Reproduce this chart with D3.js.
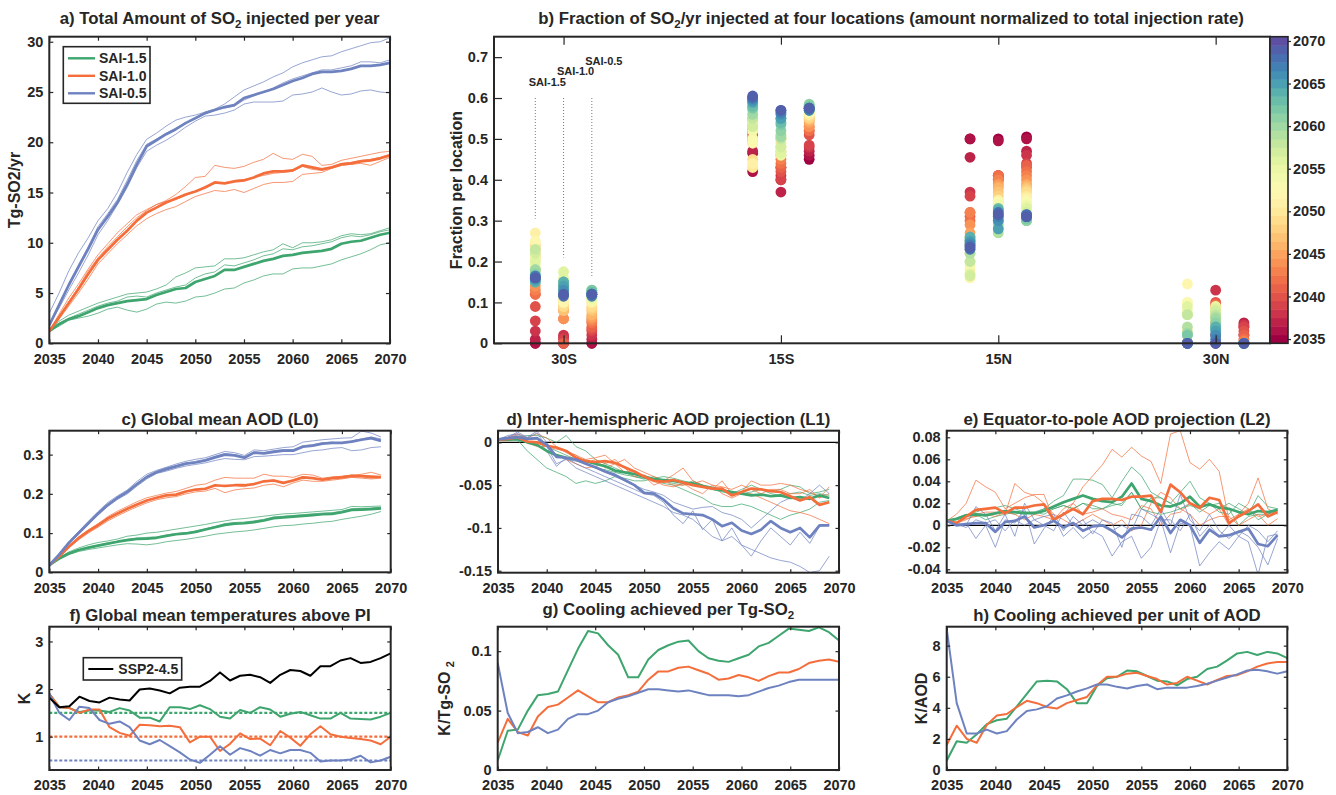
<!DOCTYPE html>
<html>
<head>
<meta charset="utf-8">
<script src="https://cdn.jsdelivr.net/npm/d3@7"></script>
<style>
  body { margin: 0; background: #fff; }
  svg text { font-family: "Liberation Sans", Arial, Helvetica, sans-serif; font-weight: bold; fill: #262626; }
  .tick text { font-size: 14.5px; }
</style>
</head>
<body>
<svg id="mainsvg" width="1336" height="795"></svg>
<script>
// ---------- data ----------
const scenarios = ['SAI-1.5', 'SAI-1.0', 'SAI-0.5'];
const locations = ['30S', '15S', '15N', '30N'];
const yearTicks = [2035, 2040, 2045, 2050, 2055, 2060, 2065, 2070];

// a) total SO2 injection (Tg/yr), 2035-2070
const inj15Mean = [1.2,1.9,2.4,2.7,3.1,3.5,3.8,4.0,4.2,4.3,4.4,4.8,5.1,5.4,5.5,6.1,6.4,6.7,7.3,7.3,7.6,7.9,8.2,8.4,8.7,8.8,9.0,9.1,9.2,9.4,9.9,10.1,10.2,10.5,10.8,11.0];
const inj15Runs = [
  [1.2,2.2,2.8,3.2,3.6,4.0,4.3,4.6,4.9,5.0,5.1,5.4,5.8,6.6,7.0,7.5,7.6,7.7,8.4,8.4,8.5,8.8,9.1,9.3,9.9,9.5,10.0,10.0,10.1,10.3,10.7,10.9,10.8,10.9,11.2,11.5],
  [1.2,1.7,2.3,2.5,2.7,3.0,3.4,3.6,3.3,3.1,3.4,3.9,4.1,4.0,4.2,4.6,4.7,5.0,5.4,5.5,6.0,6.3,6.7,6.9,6.9,7.4,7.5,7.5,7.7,7.9,8.3,8.6,8.9,9.3,9.8,10.0],
  [1.2,2.0,2.5,2.9,3.3,3.7,4.0,4.2,4.6,4.7,4.6,5.0,5.3,5.6,5.8,6.5,6.9,7.1,7.8,7.7,8.0,8.3,8.7,8.9,9.4,9.3,9.6,9.7,9.9,10.1,10.5,10.7,10.6,10.8,11.1,11.3]
];
const inj10Mean = [1.2,2.6,4.0,5.4,6.9,8.3,9.3,10.3,11.2,12.2,13.0,13.5,14.0,14.4,14.8,15.1,15.5,16.0,15.9,16.1,16.2,16.5,16.9,17.1,17.1,17.2,17.7,17.5,17.3,17.5,17.8,17.9,18.1,18.2,18.4,18.7];
const inj10Runs = [
  [1.2,2.9,4.5,5.9,7.4,8.8,9.9,11.0,11.9,12.8,13.3,13.8,14.2,14.8,15.6,16.5,16.6,17.7,17.5,17.4,17.6,18.0,18.3,18.9,18.4,18.3,18.8,18.6,17.7,17.8,18.2,18.4,18.6,18.8,19.0,19.1],
  [1.2,2.4,3.7,5.0,6.4,7.9,8.9,9.9,10.8,11.7,12.4,12.9,13.3,13.6,14.1,14.6,14.9,15.2,15.1,15.3,15.0,15.4,15.8,16.0,16.0,16.1,16.8,16.9,17.0,17.4,17.7,17.8,17.9,17.7,18.1,18.5],
  [1.2,2.7,4.1,5.6,7.2,8.5,9.6,10.6,11.6,12.5,13.2,13.8,14.1,14.3,14.7,15.1,15.6,15.9,16.0,16.2,16.3,16.5,16.7,16.9,17.0,17.1,17.6,17.3,17.2,17.5,17.9,18.0,18.2,18.3,18.5,18.8]
];
const inj05Mean = [1.8,3.8,5.8,7.6,9.4,11.3,12.6,14.0,15.8,17.8,19.6,20.2,20.8,21.3,21.9,22.4,22.9,23.2,23.5,23.7,24.4,24.7,25.0,25.3,25.7,26.1,26.4,26.8,27.0,27.0,27.1,27.3,27.6,27.6,27.7,27.9];
const inj05Runs = [
  [3.0,5.0,7.2,9.0,10.5,12.2,13.4,15.0,17.0,18.8,20.3,20.9,21.6,22.2,22.5,22.7,23.0,23.3,23.8,24.5,25.2,25.6,26.0,26.5,26.9,27.5,27.9,28.2,28.5,28.6,29.0,29.3,29.6,29.9,30.0,30.4],
  [1.8,3.5,5.3,7.0,8.8,10.8,12.2,13.8,15.5,17.5,19.1,19.7,20.2,20.8,21.5,22.1,22.6,22.7,22.9,23.2,23.8,24.0,24.0,24.0,24.1,24.7,24.8,25.0,25.4,25.0,24.7,24.8,25.1,25.2,25.0,24.9],
  [1.8,3.9,5.9,7.8,9.6,11.6,12.9,14.3,16.2,18.2,19.8,20.3,20.9,21.4,21.9,22.3,22.8,23.2,23.4,23.6,24.2,24.6,25.0,25.4,25.9,26.3,26.6,26.9,27.2,27.2,27.4,27.6,28.0,28.0,27.9,28.2]
];

// b) fraction of injection per location, 2035-2069
const frac15_30S = [0,0,0.01,0.03,0.055,0.09,0.12,0.12,0.13,0.14,0.18,0.21,0.23,0.24,0.22,0.24,0.27,0.25,0.2,0.21,0.19,0.2,0.22,0.23,0.18,0.18,0.17,0.15,0.16,0.15,0.155,0.16,0.165,0.16,0.16];
const frac15_15S = [0.465,0.42,0.47,0.5,0.52,0.51,0.52,0.5,0.53,0.55,0.54,0.52,0.5,0.49,0.45,0.43,0.44,0.49,0.5,0.52,0.54,0.53,0.53,0.55,0.57,0.56,0.58,0.575,0.58,0.59,0.59,0.595,0.6,0.6,0.605];
const frac15_15N = [0.5,0.5,0.455,0.37,0.36,0.32,0.31,0.3,0.32,0.29,0.27,0.26,0.25,0.24,0.22,0.2,0.18,0.16,0.17,0.19,0.2,0.17,0.165,0.2,0.22,0.23,0.24,0.25,0.255,0.26,0.25,0.245,0.24,0.23,0.235];
const frac15_30N = [0,0,0,0,0,0,0,0,0,0,0,0,0,0,0,0.03,0.1,0.145,0.1,0.08,0.07,0.09,0.07,0.07,0.04,0.025,0.02,0.02,0,0,0,0,0,0,0];
const frac10_30S = [0,0,0.015,0.02,0.01,0,0,0.06,0.08,0.06,0.09,0.1,0.08,0.1,0.09,0.1,0.11,0.1,0.12,0.14,0.16,0.175,0.15,0.14,0.13,0.14,0.13,0.15,0.14,0.15,0.14,0.13,0.12,0.115,0.12];
const frac10_15S = [0.43,0.4,0.37,0.41,0.4,0.42,0.43,0.44,0.45,0.46,0.47,0.48,0.5,0.5,0.49,0.5,0.51,0.5,0.48,0.47,0.46,0.465,0.48,0.5,0.51,0.505,0.52,0.535,0.54,0.55,0.55,0.56,0.565,0.57,0.57];
const frac10_15N = [0.5,0.495,0.41,0.4,0.41,0.41,0.4,0.41,0.4,0.39,0.385,0.38,0.37,0.36,0.35,0.345,0.35,0.34,0.345,0.34,0.33,0.32,0.3,0.28,0.27,0.29,0.3,0.31,0.33,0.325,0.28,0.3,0.31,0.32,0.315];
const frac10_30N = [0,0.02,0.05,0.13,0.09,0.1,0.09,0.095,0.08,0.09,0.07,0.06,0.08,0.06,0.06,0.06,0.05,0.06,0.07,0.08,0.09,0.085,0.08,0.07,0.065,0.06,0.05,0.04,0.035,0.04,0.03,0.02,0.01,0,0];
const frac05_30S = [0,0,0.01,0.02,0.03,0.035,0.04,0.05,0.055,0.06,0.065,0.07,0.08,0.085,0.09,0.1,0.1,0.105,0.11,0.105,0.11,0.115,0.12,0.12,0.125,0.13,0.125,0.13,0.125,0.12,0.12,0.12,0.115,0.12,0.12];
const frac05_15S = [0.45,0.46,0.47,0.48,0.485,0.51,0.52,0.52,0.53,0.53,0.54,0.545,0.55,0.55,0.555,0.56,0.56,0.565,0.565,0.57,0.57,0.575,0.575,0.58,0.58,0.58,0.585,0.58,0.575,0.575,0.57,0.575,0.57,0.575,0.575];
const frac05_15N = [0.505,0.5,0.47,0.46,0.44,0.43,0.435,0.42,0.41,0.4,0.39,0.385,0.38,0.375,0.37,0.36,0.355,0.35,0.345,0.34,0.335,0.33,0.32,0.31,0.305,0.3,0.3,0.305,0.31,0.31,0.31,0.315,0.31,0.315,0.31];
const frac05_30N = [0.02,0.04,0.05,0.045,0.04,0.03,0.02,0.01,0.005,0,0,0,0,0,0,0,0,0,0,0,0,0,0,0,0,0,0,0,0,0,0,0,0,0,0];

// c) global mean AOD, 2035-2069
const aod15Mean = [0.018,0.035,0.048,0.057,0.063,0.068,0.073,0.078,0.082,0.085,0.086,0.088,0.093,0.097,0.099,0.103,0.109,0.115,0.121,0.124,0.125,0.128,0.132,0.138,0.14,0.142,0.144,0.146,0.148,0.149,0.153,0.159,0.16,0.161,0.163];
const aod15Runs = [
  [0.018,0.037,0.052,0.062,0.07,0.076,0.08,0.085,0.092,0.095,0.1,0.102,0.106,0.11,0.114,0.118,0.122,0.127,0.131,0.135,0.137,0.14,0.143,0.146,0.149,0.15,0.152,0.154,0.156,0.158,0.16,0.168,0.167,0.168,0.169],
  [0.018,0.033,0.045,0.053,0.058,0.062,0.066,0.07,0.073,0.072,0.07,0.073,0.078,0.081,0.084,0.088,0.092,0.097,0.1,0.103,0.105,0.108,0.112,0.116,0.119,0.12,0.123,0.125,0.128,0.13,0.135,0.139,0.143,0.148,0.155],
  [0.018,0.035,0.048,0.057,0.064,0.069,0.074,0.079,0.084,0.087,0.089,0.09,0.095,0.099,0.101,0.105,0.111,0.117,0.124,0.127,0.128,0.131,0.135,0.141,0.143,0.145,0.147,0.149,0.151,0.152,0.156,0.162,0.163,0.164,0.166]
];
const aod10Mean = [0.018,0.04,0.065,0.087,0.105,0.12,0.137,0.15,0.162,0.173,0.183,0.19,0.196,0.198,0.206,0.211,0.213,0.222,0.22,0.222,0.222,0.225,0.232,0.234,0.228,0.234,0.242,0.24,0.236,0.24,0.242,0.246,0.245,0.244,0.243];
const aod10Runs = [
  [0.018,0.042,0.068,0.09,0.108,0.124,0.142,0.156,0.168,0.18,0.19,0.196,0.202,0.206,0.214,0.222,0.225,0.235,0.242,0.24,0.24,0.24,0.25,0.245,0.245,0.242,0.25,0.248,0.24,0.243,0.245,0.247,0.25,0.255,0.248],
  [0.018,0.038,0.062,0.083,0.1,0.115,0.131,0.144,0.156,0.167,0.177,0.185,0.19,0.193,0.2,0.205,0.207,0.214,0.203,0.21,0.213,0.215,0.222,0.225,0.218,0.228,0.235,0.232,0.232,0.235,0.238,0.242,0.24,0.238,0.24],
  [0.018,0.04,0.065,0.088,0.106,0.121,0.138,0.151,0.163,0.174,0.184,0.191,0.197,0.197,0.205,0.209,0.212,0.22,0.222,0.222,0.218,0.226,0.232,0.236,0.226,0.236,0.244,0.24,0.238,0.242,0.244,0.248,0.244,0.24,0.242]
];
const aod05Mean = [0.018,0.045,0.075,0.1,0.125,0.15,0.172,0.19,0.205,0.225,0.243,0.255,0.263,0.27,0.277,0.28,0.285,0.293,0.3,0.298,0.292,0.305,0.303,0.307,0.31,0.31,0.32,0.323,0.328,0.33,0.33,0.333,0.338,0.342,0.335];
const aod05Runs = [
  [0.018,0.047,0.078,0.104,0.13,0.155,0.178,0.195,0.21,0.232,0.25,0.26,0.268,0.276,0.283,0.288,0.292,0.3,0.308,0.305,0.298,0.312,0.31,0.314,0.318,0.32,0.332,0.335,0.338,0.34,0.342,0.343,0.36,0.355,0.345],
  [0.018,0.044,0.072,0.097,0.122,0.146,0.168,0.186,0.2,0.22,0.238,0.252,0.258,0.265,0.271,0.275,0.279,0.285,0.29,0.288,0.287,0.295,0.296,0.298,0.3,0.3,0.305,0.31,0.312,0.316,0.318,0.31,0.312,0.318,0.32],
  [0.018,0.045,0.075,0.1,0.125,0.15,0.172,0.19,0.207,0.226,0.245,0.257,0.266,0.272,0.278,0.283,0.288,0.296,0.303,0.3,0.295,0.307,0.305,0.31,0.313,0.313,0.323,0.325,0.33,0.332,0.328,0.335,0.34,0.345,0.34]
];

// d) inter-hemispheric AOD (L1), 2035-2069
const l1_15Mean = [0.003,0.003,0.004,0.0,-0.003,-0.01,-0.015,-0.018,-0.02,-0.022,-0.025,-0.028,-0.033,-0.035,-0.037,-0.04,-0.043,-0.044,-0.045,-0.047,-0.048,-0.051,-0.054,-0.056,-0.058,-0.06,-0.062,-0.061,-0.063,-0.062,-0.065,-0.064,-0.066,-0.062,-0.065];
const l1_15Runs = [
  [0.003,0.005,0.003,-0.01,-0.02,-0.03,-0.035,-0.04,-0.048,-0.045,-0.048,-0.045,-0.04,-0.042,-0.045,-0.045,-0.042,-0.04,-0.042,-0.045,-0.048,-0.05,-0.052,-0.055,-0.058,-0.06,-0.058,-0.055,-0.06,-0.062,-0.06,-0.058,-0.062,-0.06,-0.062],
  [0.003,0.004,0.006,0.008,0.008,0.005,0.0,0.008,-0.005,-0.01,-0.02,-0.025,-0.03,-0.035,-0.04,-0.042,-0.045,-0.048,-0.05,-0.055,-0.06,-0.065,-0.072,-0.075,-0.075,-0.072,-0.075,-0.08,-0.085,-0.09,-0.085,-0.082,-0.078,-0.07,-0.068],
  [0.003,0.003,0.002,0.001,0.0,-0.005,-0.01,-0.015,-0.02,-0.025,-0.03,-0.032,-0.035,-0.038,-0.04,-0.043,-0.04,-0.045,-0.048,-0.05,-0.045,-0.05,-0.055,-0.058,-0.06,-0.055,-0.05,-0.055,-0.058,-0.055,-0.05,-0.052,-0.06,-0.058,-0.055]
];
const l1_10Mean = [0.003,0.004,0.006,0.001,0.0,-0.004,-0.006,-0.01,-0.018,-0.022,-0.023,-0.022,-0.024,-0.029,-0.034,-0.04,-0.045,-0.046,-0.044,-0.047,-0.05,-0.052,-0.054,-0.054,-0.062,-0.058,-0.054,-0.055,-0.057,-0.058,-0.063,-0.068,-0.064,-0.073,-0.07];
const l1_10Runs = [
  [0.003,0.006,0.01,0.005,0.01,0.005,-0.005,-0.012,-0.015,-0.025,-0.02,-0.03,-0.025,-0.035,-0.033,-0.04,-0.05,-0.045,-0.038,-0.03,-0.045,-0.05,-0.055,-0.045,-0.06,-0.058,-0.045,-0.05,-0.05,-0.048,-0.05,-0.055,-0.058,-0.065,-0.052],
  [0.003,0.005,0.008,0.0,-0.002,-0.01,-0.015,-0.02,-0.025,-0.03,-0.028,-0.025,-0.02,-0.03,-0.04,-0.038,-0.045,-0.05,-0.052,-0.048,-0.055,-0.06,-0.05,-0.06,-0.065,-0.06,-0.06,-0.065,-0.07,-0.075,-0.08,-0.082,-0.085,-0.09,-0.095],
  [0.002,0.002,0.004,0.0,-0.005,-0.005,-0.008,-0.01,-0.015,-0.02,-0.018,-0.015,-0.025,-0.02,-0.03,-0.035,-0.04,-0.045,-0.05,-0.05,-0.048,-0.045,-0.05,-0.052,-0.055,-0.05,-0.055,-0.06,-0.055,-0.055,-0.06,-0.06,-0.055,-0.065,-0.06]
];
const l1_05Mean = [0.0035,0.005,0.006,0.004,0.005,-0.003,-0.017,-0.018,-0.02,-0.025,-0.029,-0.034,-0.038,-0.044,-0.05,-0.059,-0.06,-0.067,-0.077,-0.083,-0.084,-0.085,-0.09,-0.098,-0.094,-0.103,-0.107,-0.102,-0.092,-0.1,-0.105,-0.1,-0.111,-0.097,-0.097];
const l1_05Runs = [
  [0.003,0.008,0.01,0.005,0.011,-0.005,-0.025,-0.02,-0.03,-0.035,-0.04,-0.045,-0.05,-0.055,-0.06,-0.065,-0.07,-0.075,-0.082,-0.085,-0.09,-0.1,-0.11,-0.115,-0.11,-0.12,-0.125,-0.13,-0.135,-0.138,-0.14,-0.145,-0.152,-0.15,-0.133],
  [0.002,0.005,0.009,0.003,0.004,-0.01,-0.028,-0.018,-0.025,-0.03,-0.035,-0.04,-0.045,-0.05,-0.055,-0.06,-0.062,-0.07,-0.085,-0.095,-0.08,-0.102,-0.09,-0.115,-0.1,-0.12,-0.133,-0.115,-0.1,-0.11,-0.12,-0.105,-0.118,-0.098,-0.097],
  [0.004,0.006,0.012,0.006,0.013,0.0,-0.015,-0.02,-0.022,-0.025,-0.03,-0.035,-0.04,-0.045,-0.05,-0.055,-0.058,-0.062,-0.07,-0.074,-0.078,-0.076,-0.075,-0.082,-0.085,-0.09,-0.1,-0.09,-0.08,-0.07,-0.065,-0.068,-0.06,-0.05,-0.06]
];

// e) equator-to-pole AOD (L2), 2035-2069
const l2_15Mean = [0.004,0.006,0.009,0.01,0.009,0.011,0.013,0.012,0.011,0.011,0.013,0.017,0.021,0.024,0.027,0.024,0.022,0.021,0.026,0.038,0.024,0.022,0.018,0.017,0.02,0.026,0.017,0.019,0.016,0.015,0.012,0.01,0.013,0.012,0.014];
const l2_15Runs = [
  [0.004,0.005,0.008,0.012,0.015,0.016,0.018,0.015,0.012,0.01,0.015,0.022,0.027,0.042,0.042,0.041,0.037,0.025,0.04,0.053,0.045,0.03,0.025,0.02,0.03,0.04,0.025,0.02,0.015,0.02,0.015,0.01,0.027,0.017,0.015],
  [0.004,0.006,0.01,0.008,0.01,0.01,0.012,0.01,0.012,0.012,0.01,0.015,0.018,0.015,0.02,0.018,0.015,0.02,0.018,0.03,0.015,0.025,0.025,0.02,0.015,0.02,0.012,0.018,0.02,0.015,0.0,0.008,0.01,0.01,0.013],
  [0.004,0.005,0.008,0.01,0.005,0.008,0.01,0.012,0.01,0.012,0.015,0.015,0.018,0.015,0.02,0.015,0.015,0.018,0.02,0.03,0.015,0.012,0.01,0.012,0.015,0.018,0.015,0.02,0.012,0.01,0.02,0.015,0.005,0.01,0.015]
];
const l2_10Mean = [0.004,0.002,0.008,0.014,0.015,0.016,0.011,0.016,0.016,0.018,0.019,0.005,0.01,0.015,0.01,0.022,0.024,0.024,0.023,0.026,0.026,0.027,0.012,0.037,0.03,0.02,0.016,0.025,0.023,0.002,0.008,0.013,0.019,0.008,0.012];
const l2_10Runs = [
  [0.004,0.01,0.02,0.041,0.035,0.03,0.015,0.02,0.025,0.028,0.028,0.005,0.01,0.02,0.035,0.045,0.055,0.069,0.062,0.071,0.063,0.058,0.038,0.083,0.086,0.057,0.051,0.06,0.049,0.005,0.01,0.02,0.043,0.015,0.01],
  [0.004,0.002,0.005,0.01,0.012,0.012,0.01,0.038,0.03,0.027,0.02,0.01,0.005,0.0,0.005,0.01,0.005,0.0,0.005,-0.005,0.0,0.02,0.03,0.025,0.015,0.01,0.0,0.005,0.008,0.008,0.0,0.005,0.01,0.0,0.006],
  [0.004,0.003,0.006,0.008,0.01,0.008,0.012,0.01,0.005,0.01,0.008,0.005,0.015,0.02,0.01,0.012,0.015,0.01,0.008,0.005,0.018,0.015,0.0,0.01,0.012,0.02,0.015,0.01,0.015,0.0,0.01,0.015,0.008,0.01,0.014]
];
const l2_05Mean = [0.004,0.0,0.001,0.002,0.002,-0.006,0.003,0.004,0.008,-0.002,0.0,0.004,-0.002,0.002,-0.005,-0.001,0.0,-0.005,-0.011,-0.003,-0.002,-0.004,0.008,-0.007,0.005,0.0,-0.016,-0.004,-0.01,-0.009,-0.006,-0.003,-0.017,-0.019,-0.009];
const l2_05Runs = [
  [0.004,0.0,0.002,-0.012,0.0,-0.02,0.005,0.002,0.015,-0.017,-0.003,0.008,-0.01,-0.002,-0.012,-0.005,-0.01,-0.028,-0.015,-0.01,-0.03,-0.02,0.005,-0.025,0.002,0.0,-0.037,-0.025,-0.015,-0.022,-0.01,-0.015,-0.045,-0.01,-0.008],
  [0.004,0.002,0.0,0.017,0.01,-0.005,0.01,-0.01,0.02,0.005,0.0,-0.005,0.012,0.0,0.005,-0.008,0.005,0.002,-0.02,0.01,0.008,0.0,0.015,0.0,0.028,0.005,-0.005,0.01,-0.005,-0.012,-0.005,-0.01,-0.02,-0.036,-0.012],
  [0.004,0.001,-0.002,0.005,0.002,0.005,-0.005,0.005,0.0,0.005,0.008,0.01,-0.005,0.008,0.0,0.005,0.0,-0.005,0.0,-0.005,0.015,0.01,0.005,0.005,-0.005,0.01,-0.01,0.0,-0.01,0.0,-0.01,0.0,-0.005,-0.015,-0.005]
];

// f) global mean temperature above PI (K), 35 values spread over 2035-2070
const tempSSP245 = [1.82,1.62,1.64,1.84,1.75,1.72,1.82,1.78,1.76,1.99,2.01,1.97,1.91,2.03,2.05,2.05,2.17,2.35,2.18,2.28,2.3,2.25,2.13,2.3,2.4,2.38,2.28,2.48,2.48,2.6,2.65,2.55,2.57,2.65,2.75];
const temp15 = [1.9,1.62,1.6,1.52,1.55,1.55,1.52,1.6,1.55,1.4,1.4,1.32,1.62,1.62,1.58,1.66,1.58,1.42,1.38,1.56,1.5,1.62,1.57,1.42,1.48,1.52,1.45,1.38,1.38,1.5,1.38,1.37,1.36,1.42,1.5];
const temp10 = [1.9,1.62,1.6,1.5,1.57,1.57,1.2,1.08,1.02,1.25,1.24,1.22,1.23,1.2,0.88,1.0,1.0,0.7,0.85,1.07,0.95,0.96,0.82,1.12,0.98,0.81,1.05,1.22,1.05,1.0,0.97,0.95,0.92,0.84,1.0];
const temp05 = [1.9,1.5,1.35,1.63,1.6,1.35,1.27,1.32,1.2,0.92,0.84,0.93,0.8,0.67,0.52,0.45,0.62,0.8,0.62,0.76,0.7,0.6,0.72,0.65,0.72,0.72,0.66,0.48,0.5,0.5,0.52,0.6,0.46,0.5,0.58];
const tempTargets = [1.5, 1.0, 0.5];

// g) cooling per Tg-SO2
const coolSO2_15 = [0.008,0.033,0.034,0.05,0.063,0.064,0.066,0.084,0.102,0.117,0.115,0.105,0.097,0.078,0.078,0.093,0.101,0.105,0.108,0.109,0.1,0.094,0.092,0.091,0.094,0.097,0.104,0.107,0.113,0.119,0.118,0.117,0.12,0.116,0.109];
const coolSO2_10 = [0.023,0.043,0.032,0.029,0.045,0.053,0.055,0.061,0.067,0.062,0.057,0.057,0.061,0.063,0.066,0.076,0.083,0.083,0.086,0.087,0.084,0.081,0.076,0.077,0.08,0.078,0.075,0.079,0.082,0.082,0.085,0.09,0.092,0.093,0.091];
const coolSO2_05 = [0.09,0.048,0.031,0.032,0.036,0.031,0.034,0.043,0.047,0.047,0.05,0.057,0.06,0.062,0.065,0.068,0.068,0.067,0.066,0.067,0.065,0.063,0.063,0.063,0.062,0.063,0.066,0.069,0.071,0.074,0.076,0.076,0.076,0.076,0.076];

// h) cooling per unit AOD
const coolAOD_15 = [0.6,1.85,1.75,2.3,2.95,3.2,3.3,4.1,4.9,5.7,5.75,5.7,5.2,4.3,4.3,5.4,5.9,6.0,6.4,6.35,6.05,5.75,5.7,5.45,5.85,6.0,6.5,6.65,7.05,7.5,7.6,7.4,7.6,7.5,7.2];
const coolAOD_10 = [1.6,2.85,2.0,1.75,2.9,3.5,3.6,4.05,4.45,4.3,4.05,3.95,4.3,4.5,4.7,5.45,6.0,6.0,6.2,6.25,6.05,5.85,5.5,5.6,6.0,5.75,5.5,5.8,6.05,6.1,6.35,6.65,6.85,6.95,6.95];
const coolAOD_05 = [9.1,4.3,2.35,2.35,2.6,2.35,2.5,3.25,3.8,3.9,4.1,4.6,4.8,5.05,5.25,5.5,5.5,5.35,5.25,5.4,5.5,5.2,5.3,5.3,5.3,5.4,5.55,5.75,5.95,6.15,6.4,6.45,6.35,6.2,6.35];

// ---------- drawing ----------
const svg = d3.select('#mainsvg');
const ink = '#262626';
const colors = ['#3DA56D', '#F46E3C', '#6E82C0'];
const yearsA = d3.range(2035, 2071);
const yearsC = d3.range(2035, 2070);
const yearsSpread = d3.range(35).map(i => 2035 + i * 35 / 34);   // 35 samples across 2035-2070
const num = d => String(+(+d).toFixed(4));
let clipCount = 0;

function makePanel(box, xDomain, yDomain) {
  const x = d3.scaleLinear().domain(xDomain).range([box.l, box.r]);
  const y = d3.scaleLinear().domain(yDomain).range([box.b, box.t]);
  const g = svg.append('g');
  const id = 'clip' + (clipCount++);
  g.append('clipPath').attr('id', id).append('rect')
    .attr('x', box.l).attr('y', box.t).attr('width', box.r - box.l).attr('height', box.b - box.t);
  const plot = g.append('g').attr('clip-path', `url(#${id})`);
  return { g, plot, x, y, box };
}

function styleAxis(sel) {
  sel.attr('color', ink).attr('font-family', null).attr('font-size', null);
  sel.select('.domain').remove();
  sel.selectAll('.tick line').attr('stroke-width', 1.2);
}

function frame(p, xTicks, xFmt, yTicks, len, rightTicks = true) {
  const { g, x, y, box } = p;
  g.append('g').attr('transform', `translate(0,${box.b})`)
    .call(d3.axisBottom(x).tickValues(xTicks).tickFormat(xFmt).tickSizeInner(-len).tickSizeOuter(0).tickPadding(10))
    .call(styleAxis);
  g.append('g').attr('transform', `translate(0,${box.t})`)
    .call(d3.axisTop(x).tickValues(xTicks).tickFormat('').tickSizeInner(-len).tickSizeOuter(0))
    .call(styleAxis);
  g.append('g').attr('transform', `translate(${box.l},0)`)
    .call(d3.axisLeft(y).tickValues(yTicks).tickFormat(num).tickSizeInner(-len).tickSizeOuter(0).tickPadding(6))
    .call(styleAxis);
  if (rightTicks) {
    g.append('g').attr('transform', `translate(${box.r},0)`)
      .call(d3.axisRight(y).tickValues(yTicks).tickFormat('').tickSizeInner(-len).tickSizeOuter(0))
      .call(styleAxis);
  }
  g.append('rect')
    .attr('x', box.l).attr('y', box.t).attr('width', box.r - box.l).attr('height', box.b - box.t)
    .attr('fill', 'none').attr('stroke', ink).attr('stroke-width', 2);
}

// text with "_2" style subscripts
function richText(sel, str, subSize) {
  const parts = str.split(/_(\d)/);
  parts.forEach((s, i) => {
    if (!s) return;
    if (i % 2) sel.append('tspan').attr('font-size', subSize).attr('dy', 4).text(s);
    else sel.append('tspan').attr('dy', i ? -4 : 0).text(s);
  });
}

function title(p, str, baseline, cx) {
  const t = p.g.append('text')
    .attr('x', cx !== undefined ? cx : (p.box.l + p.box.r) / 2).attr('y', baseline)
    .attr('text-anchor', 'middle').attr('font-size', 16.8);
  richText(t, str, 11.5);
}

function yLabel(p, str, xBase) {
  const t = p.g.append('text')
    .attr('transform', `translate(${xBase},${(p.box.t + p.box.b) / 2}) rotate(-90)`)
    .attr('text-anchor', 'middle').attr('font-size', 16);
  richText(t, str, 11);
}

function drawLine(p, xs, vals, color, width, opacity = 1, dash = null) {
  const line = d3.line().x((d, i) => p.x(xs[i])).y(d => p.y(d));
  p.plot.append('path').datum(vals)
    .attr('d', line).attr('fill', 'none')
    .attr('stroke', color).attr('stroke-width', width)
    .attr('stroke-opacity', opacity)
    .attr('stroke-linejoin', 'round')
    .attr('stroke-dasharray', dash);
}

function ensemble(p, xs, runsList, meanList) {
  runsList.forEach((runs, s) => runs.forEach(r => drawLine(p, xs, r, colors[s], 0.9, 0.8)));
  meanList.forEach((m, s) => drawLine(p, xs, m, colors[s], 2.7));
}

// ----- a -----
const pa = makePanel({ l: 49.3, r: 390, t: 36.7, b: 343.3 }, [2035, 2070], [0, 30.5]);
ensemble(pa, yearsA, [inj15Runs, inj10Runs, inj05Runs], [inj15Mean, inj10Mean, inj05Mean]);
frame(pa, yearTicks, d3.format('d'), [0, 5, 10, 15, 20, 25, 30], 4);
title(pa, 'a) Total Amount of SO_2 injected per year', 23.5);
yLabel(pa, 'Tg-SO2/yr', 20);
const legA = pa.g.append('g');
legA.append('rect').attr('x', 63.3).attr('y', 46.7).attr('width', 86.7).attr('height', 56.6)
  .attr('fill', '#fff').attr('stroke', ink).attr('stroke-width', 1.6);
scenarios.forEach((s, i) => {
  const yy = 58.3 + i * 17.5;
  legA.append('line').attr('x1', 68).attr('x2', 95).attr('y1', yy).attr('y2', yy)
    .attr('stroke', colors[i]).attr('stroke-width', 2.4);
  legA.append('text').attr('x', 99).attr('y', yy + 5).attr('font-size', 14).text(s);
});

// ----- b -----
const fracTable = [
  [frac15_30S, frac15_15S, frac15_15N, frac15_30N],
  [frac10_30S, frac10_15S, frac10_15N, frac10_30N],
  [frac05_30S, frac05_15S, frac05_15N, frac05_30N]
];
const colOffset = [-0.13, 0, 0.13];
const labelLevel = [0.64, 0.665, 0.69];
const pb = makePanel({ l: 494, r: 1270, t: 36.7, b: 343.3 }, [0.68, 4.25], [0, 0.75]);
const yearColor = yr => d3.interpolateSpectral((yr - 2035) / 35);

// dotted guides + labels above the 30S columns
scenarios.forEach((s, si) => {
  const cx = pb.x(1 + colOffset[si]);
  pb.plot.append('line').attr('x1', cx).attr('x2', cx)
    .attr('y1', pb.y(0.6)).attr('y2', pb.y(d3.max(fracTable[si][0]) + 0.035))
    .attr('stroke', '#777').attr('stroke-width', 1).attr('stroke-dasharray', '1,2');
  pb.g.append('text').attr('x', cx + 12).attr('y', pb.y(labelLevel[si]) + 4)
    .attr('text-anchor', 'middle').attr('font-size', 11).text(s);
});

const dots = [];
fracTable.forEach((locs, si) => locs.forEach((vals, li) => vals.forEach((v, k) => {
  dots.push({ x: li + 1 + colOffset[si], v, year: yearsC[k] });
})));
dots.sort((a, b) => a.year - b.year);
pb.g.append('g').selectAll('circle').data(dots).join('circle')
  .attr('cx', d => pb.x(d.x)).attr('cy', d => pb.y(d.v)).attr('r', 5.4)
  .attr('fill', d => yearColor(d.year));
frame(pb, [1, 2, 3, 4], (d, i) => locations[i], [0, 0.1, 0.2, 0.3, 0.4, 0.5, 0.6, 0.7], 8, false);
title(pb, 'b) Fraction of SO_2/yr injected at four locations (amount normalized to total injection rate)', 23.5, 891);
yLabel(pb, 'Fraction per location', 462);

// colorbar
const cbYears = d3.range(2035, 2071);
const cb = d3.scaleLinear().domain([2034.5, 2070.5]).range([343.3, 36.7]);
const cbg = svg.append('g');
cbg.selectAll('rect').data(cbYears).join('rect')
  .attr('x', 1270).attr('width', 18)
  .attr('y', d => cb(d + 0.5)).attr('height', d => cb(d - 0.5) - cb(d + 0.5) + 0.5)
  .attr('fill', yearColor);
cbg.append('rect').attr('x', 1270).attr('y', 36.7).attr('width', 18).attr('height', 306.6)
  .attr('fill', 'none').attr('stroke', ink).attr('stroke-width', 1.6);
cbg.append('g').attr('transform', 'translate(1288,0)')
  .call(d3.axisRight(cb).tickValues([2035, 2040, 2045, 2050, 2055, 2060, 2065, 2070])
    .tickFormat(d3.format('d')).tickSizeInner(3).tickSizeOuter(0).tickPadding(2))
  .call(styleAxis);

// ----- c -----
const pc = makePanel({ l: 49.3, r: 390.7, t: 430.7, b: 572.3 }, [2035, 2070], [0, 0.361]);
ensemble(pc, yearsC, [aod15Runs, aod10Runs, aod05Runs], [aod15Mean, aod10Mean, aod05Mean]);
frame(pc, yearTicks, d3.format('d'), [0, 0.1, 0.2, 0.3], 3.5);
title(pc, 'c) Global mean AOD (L0)', 425);

// ----- d -----
const pd = makePanel({ l: 498, r: 839, t: 430.7, b: 572.7 }, [2035, 2070], [-0.1523, 0.0136]);
pd.plot.append('line').attr('x1', pd.box.l).attr('x2', pd.box.r).attr('y1', pd.y(0)).attr('y2', pd.y(0))
  .attr('stroke', '#000').attr('stroke-width', 1.2);
ensemble(pd, yearsC, [l1_15Runs, l1_10Runs, l1_05Runs], [l1_15Mean, l1_10Mean, l1_05Mean]);
frame(pd, yearTicks, d3.format('d'), [-0.15, -0.1, -0.05, 0], 3.5);
title(pd, 'd) Inter-hemispheric AOD projection (L1)', 425);

// ----- e -----
const pe = makePanel({ l: 946.7, r: 1287.3, t: 430.7, b: 572.7 }, [2035, 2070], [-0.0431, 0.086]);
pe.plot.append('line').attr('x1', pe.box.l).attr('x2', pe.box.r).attr('y1', pe.y(0)).attr('y2', pe.y(0))
  .attr('stroke', '#000').attr('stroke-width', 1.2);
ensemble(pe, yearsC, [l2_15Runs, l2_10Runs, l2_05Runs], [l2_15Mean, l2_10Mean, l2_05Mean]);
frame(pe, yearTicks, d3.format('d'), [-0.04, -0.02, 0, 0.02, 0.04, 0.06, 0.08], 3.5);
title(pe, 'e) Equator-to-pole AOD projection (L2)', 425);

// ----- f -----
const pf = makePanel({ l: 49.3, r: 390.7, t: 626.7, b: 770 }, [2035, 2070], [0.3, 3.31]);
tempTargets.forEach((t, i) => drawLine(pf, [2035, 2070], [t, t], colors[i], 2.2, 1, '3,2'));
[temp15, temp10, temp05].forEach((s, i) => drawLine(pf, yearsSpread, s, colors[i], 2));
drawLine(pf, yearsSpread, tempSSP245, '#000', 2);
frame(pf, yearTicks, d3.format('d'), [1, 2, 3], 3.5);
title(pf, 'f) Global mean temperatures above PI', 620.7);
yLabel(pf, 'K', 30);
const legF = pf.g.append('g');
legF.append('rect').attr('x', 83.3).attr('y', 657.7).attr('width', 98.4).attr('height', 22.3)
  .attr('fill', '#fff').attr('stroke', ink).attr('stroke-width', 1.6);
legF.append('line').attr('x1', 88.3).attr('x2', 113.3).attr('y1', 669).attr('y2', 669)
  .attr('stroke', '#000').attr('stroke-width', 2);
legF.append('text').attr('x', 118.3).attr('y', 674).attr('font-size', 14).text('SSP2-4.5');

// ----- g -----
const pg = makePanel({ l: 497.7, r: 839, t: 626.7, b: 770 }, [2035, 2070], [0, 0.1206]);
[coolSO2_15, coolSO2_10, coolSO2_05].forEach((s, i) => drawLine(pg, yearsSpread, s, colors[i], 2));
frame(pg, yearTicks, d3.format('d'), [0, 0.05, 0.1], 3.5);
title(pg, 'g) Cooling achieved per Tg-SO_2', 615);
yLabel(pg, 'K/Tg-SO _2', 450);

// ----- h -----
const ph = makePanel({ l: 946.7, r: 1287.3, t: 626.7, b: 770 }, [2035, 2070], [0, 9.22]);
[coolAOD_15, coolAOD_10, coolAOD_05].forEach((s, i) => drawLine(ph, yearsSpread, s, colors[i], 2));
frame(ph, yearTicks, d3.format('d'), [0, 2, 4, 6, 8], 3.5);
title(ph, 'h) Cooling achieved per unit of AOD', 620.7);
yLabel(ph, 'K/AOD', 927);
</script>
</body>
</html>
